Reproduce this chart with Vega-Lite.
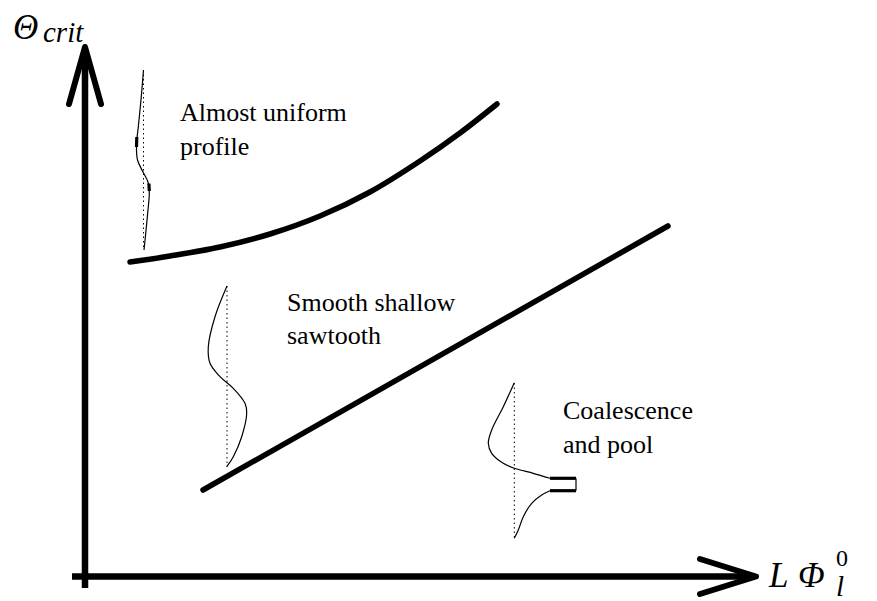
{
"$schema": "https://vega.github.io/schema/vega-lite/v6.json",
"width": 877, "height": 601, "autosize": "none", "padding": 0,
"background": "white",
"config": {"view": {"stroke": null}},
"datasets": {
 "shafts": [{"g":"y","o":0,"x":85,"y":588},{"g":"y","o":1,"x":85,"y":55},{"g":"x","o":0,"x":72,"y":576.5},{"g":"x","o":1,"x":748,"y":576.5}],
 "heads": [{"g":"y","o":0,"x":69,"y":104},{"g":"y","o":1,"x":85,"y":47},{"g":"y","o":2,"x":101,"y":104},{"g":"x","o":0,"x":700,"y":559},{"g":"x","o":1,"x":756,"y":576.5},{"g":"x","o":2,"x":700,"y":594}],
 "bounds": [{"g":"c","o":0,"x":130,"y":262},{"g":"c","o":1,"x":170,"y":256},{"g":"c","o":2,"x":220,"y":247},{"g":"c","o":3,"x":270,"y":234},{"g":"c","o":4,"x":320,"y":216},{"g":"c","o":5,"x":370,"y":192},{"g":"c","o":6,"x":420,"y":161},{"g":"c","o":7,"x":460,"y":133},{"g":"c","o":8,"x":497,"y":104},{"g":"l","o":0,"x":203,"y":490},{"g":"l","o":1,"x":668,"y":226}],
 "profiles": [
  {"g":"p1","o":0,"x":143.5,"y":70},{"g":"p1","o":1,"x":141,"y":100},{"g":"p1","o":2,"x":138.5,"y":125},{"g":"p1","o":3,"x":136.5,"y":145},{"g":"p1","o":4,"x":137.5,"y":160},{"g":"p1","o":5,"x":143,"y":172},{"g":"p1","o":6,"x":148,"y":182},{"g":"p1","o":7,"x":149.3,"y":192},{"g":"p1","o":8,"x":147.5,"y":215},{"g":"p1","o":9,"x":144,"y":250},
  {"g":"p2","o":0,"x":227,"y":286},{"g":"p2","o":1,"x":215,"y":316.7},{"g":"p2","o":2,"x":208.3,"y":346.7},{"g":"p2","o":3,"x":210,"y":363.3},{"g":"p2","o":4,"x":220,"y":376.7},{"g":"p2","o":5,"x":233.3,"y":388.3},{"g":"p2","o":6,"x":245,"y":403.3},{"g":"p2","o":7,"x":246.7,"y":413.3},{"g":"p2","o":8,"x":241.7,"y":436.7},{"g":"p2","o":9,"x":233.3,"y":456.7},{"g":"p2","o":10,"x":226.7,"y":466.7},
  {"g":"p3u","o":0,"x":514.3,"y":382.7},{"g":"p3u","o":1,"x":503.3,"y":406.7},{"g":"p3u","o":2,"x":491.7,"y":430},{"g":"p3u","o":3,"x":488.3,"y":443.3},{"g":"p3u","o":4,"x":491.7,"y":453.3},{"g":"p3u","o":5,"x":503.3,"y":463.3},{"g":"p3u","o":6,"x":515,"y":468.5},{"g":"p3u","o":7,"x":533.3,"y":473.3},{"g":"p3u","o":8,"x":550,"y":478.3},
  {"g":"p3l","o":0,"x":550,"y":490.7},{"g":"p3l","o":1,"x":541.7,"y":495},{"g":"p3l","o":2,"x":531.7,"y":503.3},{"g":"p3l","o":3,"x":523.3,"y":516.7},{"g":"p3l","o":4,"x":518.3,"y":530},{"g":"p3l","o":5,"x":514.3,"y":538.3},
  {"g":"r","o":0,"x":576,"y":478.3},{"g":"r","o":1,"x":576,"y":490.7}
 ],
 "bold": [{"g":"b1","o":0,"x":136.8,"y":137},{"g":"b1","o":1,"x":136.5,"y":147},{"g":"b2","o":0,"x":148.9,"y":183.5},{"g":"b2","o":1,"x":149.3,"y":191},{"g":"t","o":0,"x":550,"y":478.3},{"g":"t","o":1,"x":576,"y":478.3},{"g":"b","o":0,"x":550,"y":490.7},{"g":"b","o":1,"x":576,"y":490.7}],
 "dots": [{"g":"d1","o":0,"x":143.5,"y":70},{"g":"d1","o":1,"x":143.5,"y":250},{"g":"d2","o":0,"x":227,"y":286},{"g":"d2","o":1,"x":227,"y":467},{"g":"d3","o":0,"x":514.3,"y":383},{"g":"d3","o":1,"x":514.3,"y":538}],
 "labels": [{"x":180,"y":121,"t":"Almost uniform"},{"x":180,"y":155,"t":"profile"},{"x":287,"y":311,"t":"Smooth shallow"},{"x":287,"y":344,"t":"sawtooth"},{"x":563,"y":419,"t":"Coalescence"},{"x":563,"y":453,"t":"and pool"}],
 "mbig": [{"x":13,"y":39,"t":"Θ"},{"x":769,"y":587,"t":"L"},{"x":798,"y":587,"t":"Φ"}],
 "msub": [{"x":43,"y":42,"t":"crit"},{"x":836,"y":596,"t":"l"}],
 "msup": [{"x":836,"y":566,"t":"0"}]
},
"encoding": {
 "x": {"field":"x","type":"quantitative","scale":{"domain":[0,877],"nice":false,"zero":false},"axis":null},
 "y": {"field":"y","type":"quantitative","scale":{"domain":[0,601],"nice":false,"zero":false,"reverse":true},"axis":null}
},
"layer": [
 {"data":{"name":"dots"},"mark":{"type":"line","color":"black","strokeWidth":1,"strokeDash":[1.5,3]},"encoding":{"detail":{"field":"g"},"order":{"field":"o"}}},
 {"data":{"name":"profiles"},"mark":{"type":"line","color":"black","strokeWidth":1.2,"interpolate":"catmull-rom"},"encoding":{"detail":{"field":"g"},"order":{"field":"o"}}},
 {"data":{"name":"bold"},"mark":{"type":"line","color":"black","strokeWidth":3.2},"encoding":{"detail":{"field":"g"},"order":{"field":"o"}}},
 {"data":{"name":"bounds"},"mark":{"type":"line","color":"black","strokeWidth":5.5,"strokeCap":"round","interpolate":"catmull-rom"},"encoding":{"detail":{"field":"g"},"order":{"field":"o"}}},
 {"data":{"name":"shafts"},"mark":{"type":"line","color":"black","strokeWidth":6.5,"strokeCap":"butt"},"encoding":{"detail":{"field":"g"},"order":{"field":"o"}}},
 {"data":{"name":"heads"},"mark":{"type":"line","color":"black","strokeWidth":6,"strokeCap":"round","strokeJoin":"round"},"encoding":{"detail":{"field":"g"},"order":{"field":"o"}}},
 {"data":{"name":"labels"},"mark":{"type":"text","font":"Liberation Serif, Times New Roman, serif","fontSize":26,"align":"left","baseline":"alphabetic","color":"black"},"encoding":{"text":{"field":"t"}}},
 {"data":{"name":"mbig"},"mark":{"type":"text","font":"Liberation Serif, Times New Roman, serif","fontStyle":"italic","fontSize":35,"align":"left","baseline":"alphabetic","color":"black"},"encoding":{"text":{"field":"t"}}},
 {"data":{"name":"msub"},"mark":{"type":"text","font":"Liberation Serif, Times New Roman, serif","fontStyle":"italic","fontSize":29,"align":"left","baseline":"alphabetic","color":"black"},"encoding":{"text":{"field":"t"}}},
 {"data":{"name":"msup"},"mark":{"type":"text","font":"Liberation Serif, Times New Roman, serif","fontSize":24,"align":"left","baseline":"alphabetic","color":"black"},"encoding":{"text":{"field":"t"}}}
]
}
